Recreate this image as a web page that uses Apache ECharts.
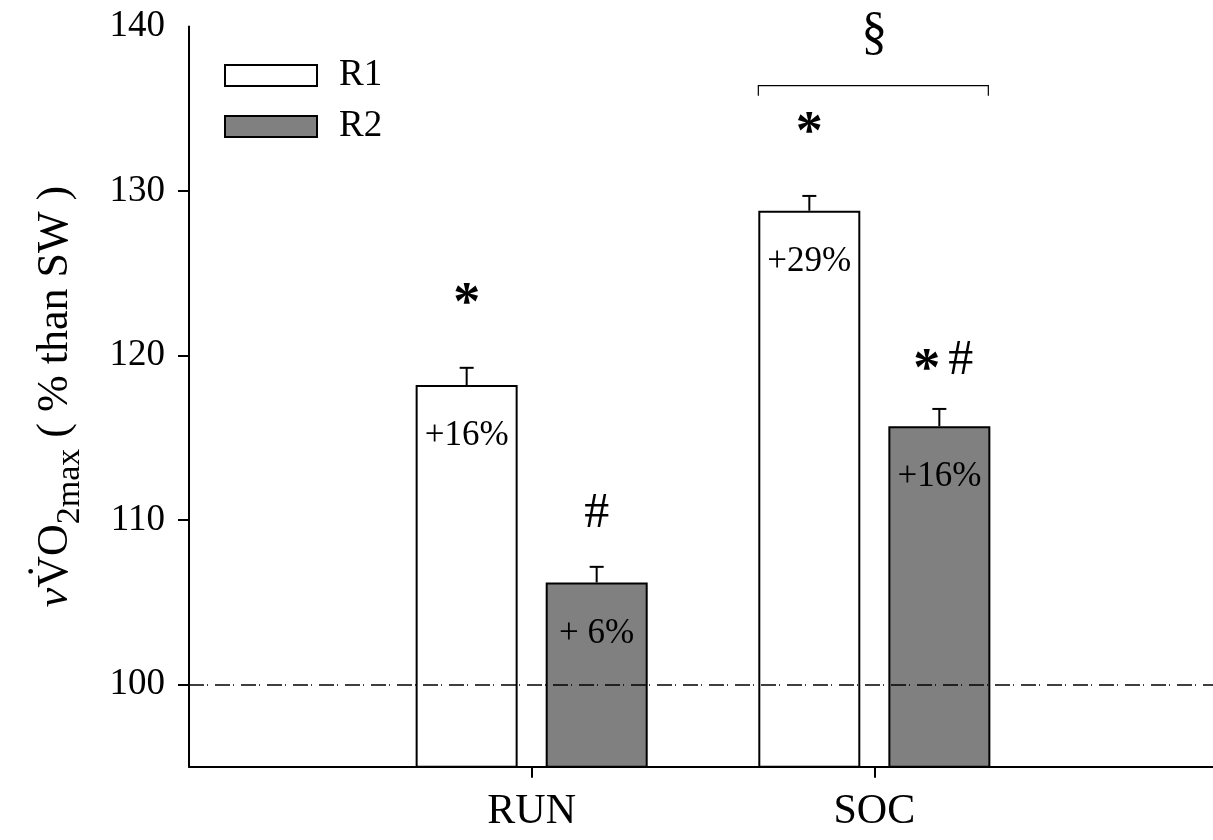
<!DOCTYPE html>
<html>
<head>
<meta charset="utf-8">
<script src="https://cdn.jsdelivr.net/npm/echarts@6/dist/echarts.min.js"></script>
<style>html,body{margin:0;padding:0;background:#fff}#c{width:1213px;height:840px}</style>
</head>
<body>
<div id="c"></div>
<script>
// ---- data ----
const categories = ['RUN', 'SOC'];
const seriesNames = ['R1', 'R2'];
const r1Values = [118.2, 128.8];
const r2Values = [106.2, 115.7];
const r1Errors = [1.05, 0.9];
const r2Errors = [0.95, 1.05];
const r1Labels = ['+16%', '+29%'];
const r2Labels = ['+ 6%', '+16%'];
const r1Marks = ['*', '*'];
const r2Marks = ['#', '*#'];
const r1MarkY = [123.7, 134.1];
const r2MarkY = [110.4, 119.7];
const bracketY = 136.4;
const bracketText = '\u00A7';
const bracketTextY = 139.5;
const yTicks = [100, 110, 120, 130, 140];
const refLine = 100;

const FONT = 'Liberation Serif';
const BAR_W = 102;
const OFFSET = 65;

const chart = echarts.init(document.getElementById('c'), null, {renderer: 'canvas'});

function barSeries(name, values, labels, color) {
  return {
    type: 'bar', name,
    data: values.map((v, i) => [i + 1, v]),
    barWidth: BAR_W, barGap: '27.5%',
    itemStyle: {color, borderColor: '#000', borderWidth: 2},
    label: {
      show: true, position: 'insideTop', distance: 31,
      formatter: p => labels[p.dataIndex],
      fontFamily: FONT, fontSize: 35, color: '#000', lineHeight: 40
    },
    z: 2
  };
}

function glyphEl(ch, x, y) {
  const isStar = ch === '*';
  const fs = isStar ? 54 : 50;
  return {
    type: 'text', x, y: y + (isStar ? 0.19 * fs : 0),
    style: {
      text: ch, fontFamily: FONT, fontSize: fs, fontWeight: isStar ? 'bold' : 'normal',
      fill: '#000', align: 'center', verticalAlign: 'middle'
    }
  };
}

function errSeries(name, values, errors, marks, markY, offset) {
  return {
    type: 'custom', name,
    data: values.map((v, i) => [i + 1, v, errors[i], markY[i]]),
    encode: {x: 0, y: 1},
    z: 3,
    renderItem(params, api) {
      const x = api.value(0), m = api.value(1), e = api.value(2), my = api.value(3);
      const p0 = api.coord([x, m]);
      const p1 = api.coord([x, m + e]);
      const pm = api.coord([x, my]);
      const cx = p0[0] + offset;
      const mk = marks[params.dataIndex];
      const children = [
        {type: 'line', shape: {x1: cx, y1: p0[1], x2: cx, y2: p1[1]}, style: {stroke: '#000', lineWidth: 2}},
        {type: 'line', shape: {x1: cx - 7, y1: p1[1], x2: cx + 7, y2: p1[1]}, style: {stroke: '#000', lineWidth: 2}}
      ];
      const chars = mk.split('');
      const offs = chars.length === 1 ? [0] : [-12.5, 21.5];
      chars.forEach((ch, k) => children.push(glyphEl(ch, cx + offs[k], pm[1])));
      return {type: 'group', children};
    }
  };
}

const bracketSeries = {
  type: 'custom', name: 'bracket',
  data: [[2, bracketY, bracketTextY]],
  z: 3,
  renderItem(params, api) {
    const p = api.coord([api.value(0), api.value(1)]);
    const pt = api.coord([api.value(0), api.value(2)]);
    const half = BAR_W + 14;
    const xl = p[0] - half, xr = p[0] + half - 2;
    return {
      type: 'group',
      children: [
        {type: 'polyline', shape: {points: [[xl, p[1] + 10], [xl, p[1]], [xr, p[1]], [xr, p[1] + 10]]},
         style: {stroke: '#000', lineWidth: 1.2, fill: null}},
        {type: 'text', x: p[0], y: pt[1], style: {
          text: bracketText, fontFamily: FONT, fontSize: 52, fill: '#000',
          align: 'center', verticalAlign: 'middle'
        }}
      ]
    };
  }
};

const option = {
  backgroundColor: '#fff',
  animation: false,
  grid: {left: 189, right: -4, top: 26.5, bottom: 73.3, containLabel: false, outerBoundsMode: 'none'},
  legend: {
    data: seriesNames, orient: 'vertical', left: 219, top: 50.5,
    icon: 'rect',
    itemWidth: 92, itemHeight: 21, itemGap: 11,
    textStyle: {fontFamily: FONT, fontSize: 37, lineHeight: 40, color: '#000', padding: [0, 0, 0, 17]},
    itemStyle: {borderColor: '#000', borderWidth: 2},
    selectedMode: false
  },
  xAxis: {
    type: 'value', min: 0, max: 3, interval: 1,
    splitLine: {show: false},
    axisLine: {show: true, onZero: false, lineStyle: {color: '#000', width: 2}},
    axisTick: {show: true, customValues: [1, 2], length: 11, lineStyle: {color: '#000', width: 2}},
    axisLabel: {
      customValues: [1, 2],
      formatter: v => categories[Math.round(v) - 1] || '',
      fontFamily: FONT, fontSize: 42, color: '#000', margin: 24
    }
  },
  yAxis: {
    type: 'value', min: 95, max: 140, interval: 5,
    splitLine: {show: false},
    axisLine: {show: true, lineStyle: {color: '#000', width: 2}},
    axisTick: {show: true, customValues: [100, 110, 120, 130], length: 11, lineStyle: {color: '#000', width: 2}},
    axisLabel: {
      customValues: yTicks,
      fontFamily: FONT, fontSize: 37, color: '#000', margin: 24
    },
    name: '{v|v}{V|V\u0307}{V|O}{sub|2max}{r| ( % than SW )}',
    nameLocation: 'middle', nameRotate: 90, nameGap: 108,
    nameTextStyle: {
      fontFamily: FONT, fontSize: 44, color: '#000',
      rich: {
        v: {fontFamily: FONT, fontSize: 44, fontStyle: 'italic', lineHeight: 48, verticalAlign: 'top'},
        V: {fontFamily: FONT, fontSize: 44, lineHeight: 48, verticalAlign: 'top'},
        sub: {fontFamily: FONT, fontSize: 34, lineHeight: 34, verticalAlign: 'top', padding: [20, 0, 0, 0]},
        r: {fontFamily: FONT, fontSize: 44, lineHeight: 48, verticalAlign: 'top'}
      }
    }
  },
  series: [
    Object.assign(barSeries('R1', r1Values, r1Labels, '#ffffff'), {
      markLine: {
        silent: true, symbol: 'none', z: 5,
        label: {show: false},
        lineStyle: {color: '#000', width: 1.5, type: [15, 3, 1, 7]},
        data: [{yAxis: refLine}]
      }
    }),
    barSeries('R2', r2Values, r2Labels, '#808080'),
    errSeries('R1 err', r1Values, r1Errors, r1Marks, r1MarkY, -OFFSET),
    errSeries('R2 err', r2Values, r2Errors, r2Marks, r2MarkY, OFFSET),
    bracketSeries
  ]
};
chart.setOption(option);
</script>
</body>
</html>
